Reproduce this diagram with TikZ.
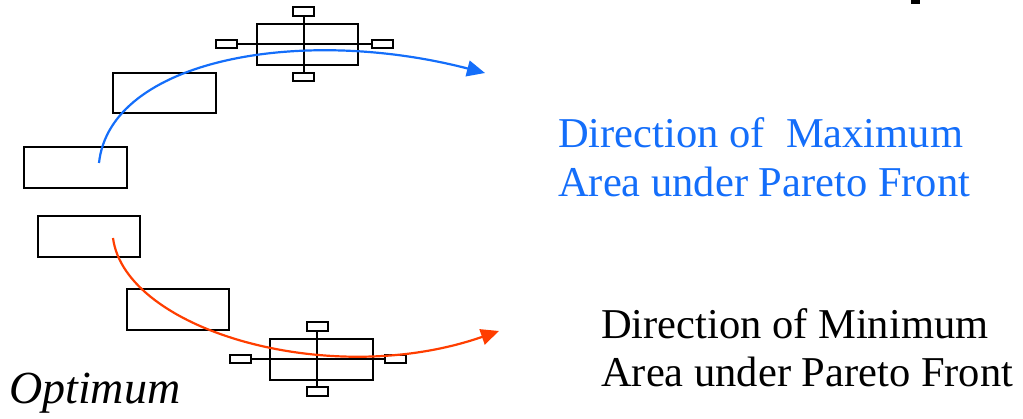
\documentclass[tikz,border=0pt]{standalone}
\usepackage{fontspec}
\setmainfont{Liberation Serif}
\usetikzlibrary{arrows.meta}
\definecolor{dirblue}{RGB}{20,110,250}
\definecolor{dirred}{RGB}{255,62,0}
\begin{document}
\begin{tikzpicture}[x=1pt,y=-1pt,
  blk/.style={draw=black,line width=2pt,rectangle,inner sep=0pt,outer sep=0pt},
  tab/.style={blk,minimum width=21pt,minimum height=8.5pt},
  link/.style={draw=black,line width=2pt},
  path/.style={line width=2.2pt,-{Triangle[length=18pt,width=16pt]}},
  lbl/.style={anchor=base west,inner sep=0pt,font=\fontsize{42.5}{49}\selectfont}]
\useasboundingbox (0,0) rectangle (1023,419);
\fill (911,0) rectangle (920,4);

% stacked design boxes
\node[blk,minimum width=103pt,minimum height=40pt] (a) at (164.5,93) {};
\node[blk,minimum width=103pt,minimum height=41pt] (b) at (75.5,167.5) {};
\node[blk,minimum width=102pt,minimum height=41pt] (c) at (89,236.5) {};
\node[blk,minimum width=102pt,minimum height=41pt] (d) at (178,309.5) {};

% upper cross-shaped configuration
\node[blk,minimum width=101pt,minimum height=41pt] (tm) at (307.5,44.5) {};
\node[tab] (tt) at (303.5,11.5) {};
\node[tab] (tb) at (303.5,77) {};
\node[tab] (tl) at (226.5,44) {};
\node[tab] (tr) at (382,44) {};
\draw[link] (tt.south) -- (tb.north);
\draw[link] (tl.east) -- (tr.west);

% lower cross-shaped configuration
\node[blk,minimum width=103pt,minimum height=41pt] (bm) at (321.5,359.5) {};
\node[tab] (bt) at (317,326.5) {};
\node[tab] (bb) at (317,391.5) {};
\node[tab] (bl) at (240,359) {};
\node[tab] (br) at (395.5,359) {};
\draw[link] (bt.south) -- (bb.north);
\draw[link] (bl.east) -- (br.west);

% direction arrows
\coordinate (bs) at (99,163);
\coordinate (be) at (485,73);
\coordinate (rs) at (113,238);
\coordinate (re) at (499,331);
\draw[path,dirblue] (bs) .. controls (110,60) and (300,25) .. (be);
\draw[path,dirred] (rs) .. controls (125,330) and (330,390) .. (re);

% labels
\node[lbl,text=dirblue] (t1) at (558,148) {Direction of~ Maximum};
\node[lbl,text=dirblue] (t2) at (558,197) {Area under Pareto Front};
\node[lbl] (t3) at (601,339) {Direction of Minimum};
\node[lbl] (t4) at (601,387) {Area under Pareto Front};
\node[anchor=base west,inner sep=0pt,font=\fontsize{46}{50}\selectfont\itshape] (opt) at (9,404) {Optimum};
\end{tikzpicture}
\end{document}
